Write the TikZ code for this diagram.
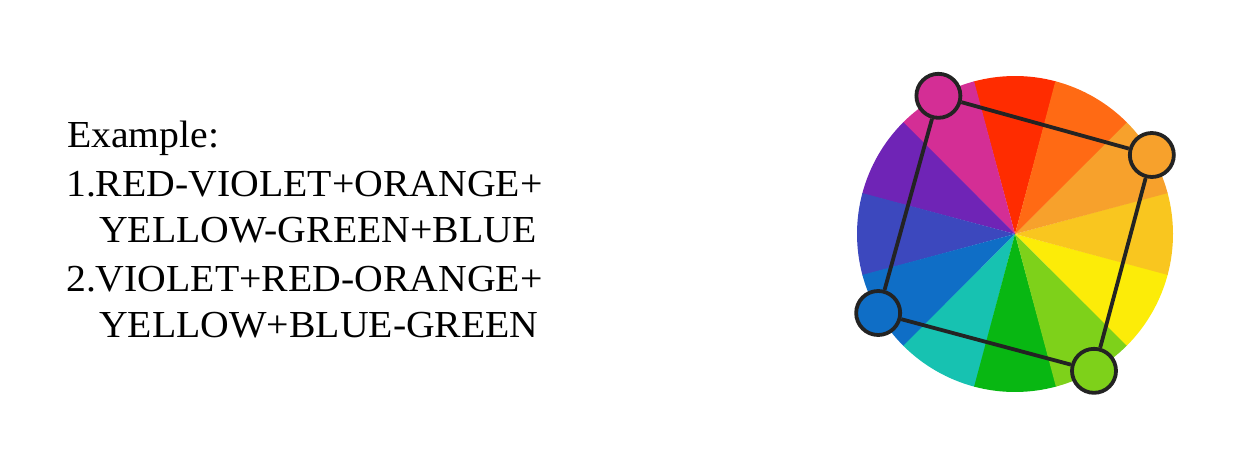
\documentclass[tikz,border=0pt]{standalone}
\usepackage{fontspec}
\setmainfont[FakeStretch=1.04]{Liberation Serif}
\usepackage{xcolor}
\usetikzlibrary{positioning}

\definecolor{cRed}{HTML}{FF2C00}
\definecolor{cRedViolet}{HTML}{D42E95}
\definecolor{cViolet}{HTML}{6F24B6}
\definecolor{cBlueViolet}{HTML}{3C48BE}
\definecolor{cBlue}{HTML}{0F6EC6}
\definecolor{cBlueGreen}{HTML}{17C2B1}
\definecolor{cGreen}{HTML}{08B712}
\definecolor{cYellowGreen}{HTML}{7ED11A}
\definecolor{cYellow}{HTML}{FCEC08}
\definecolor{cYellowOrange}{HTML}{F9C61F}
\definecolor{cOrange}{HTML}{F7A12C}
\definecolor{cRedOrange}{HTML}{FF6A14}
\definecolor{ringline}{HTML}{232323}

\tikzset{
  label text/.style={anchor=base west, inner sep=0pt, font=\fontsize{38.2}{47}\selectfont},
  pick/.style={circle, draw=ringline, line width=3.8pt, minimum size=44pt, inner sep=0pt},
  link/.style={draw=ringline, line width=3.8pt}
}

\begin{document}
\begin{tikzpicture}[x=1pt, y=1pt]
\useasboundingbox (0,0) rectangle (1237,464);
% Labels
\node[label text] (ex) at (67,316) {Example:};
\node[label text] (one) at (66,267) {1.RED-VIOLET+ORANGE+};
\node[label text] (onecont) at (99,221) {YELLOW-GREEN+BLUE};
\node[label text] (two) at (66,172) {2.VIOLET+RED-ORANGE+};
\node[label text] (twocont) at (99,127) {YELLOW+BLUE-GREEN};
% Draw the colour wheel
\begin{scope}[shift={(1015,230)}]
\foreach \col [count=\i from 0] in {cRed,cRedViolet,cViolet,cBlueViolet,cBlue,cBlueGreen,cGreen,cYellowGreen,cYellow,cYellowOrange,cOrange,cRedOrange}
  \fill[\col] (0,0) -- (75+30*\i:158pt) arc[start angle=75+30*\i, end angle=105.2+30*\i, radius=158pt] -- cycle;
% Draw the four picked colours
\node[pick, fill=cRedViolet] (rv) at (119:158) {};
\node[pick, fill=cOrange] (or) at (30:158) {};
\node[pick, fill=cYellowGreen] (yg) at (-60:158) {};
\node[pick, fill=cBlue] (bl) at (210:158) {};
\end{scope}
% Draw the square between them
\draw[link] (rv) -- (or);
\draw[link] (or) -- (yg);
\draw[link] (yg) -- (bl);
\draw[link] (bl) -- (rv);
\end{tikzpicture}
\end{document}
